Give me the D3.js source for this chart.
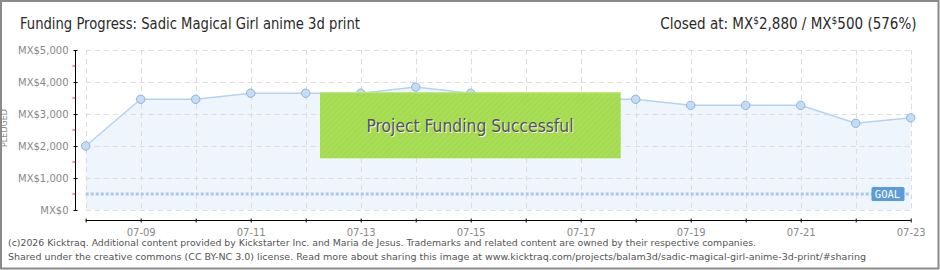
<!DOCTYPE html>
<html>
<head>
<meta charset="utf-8">
<script src="https://cdn.jsdelivr.net/npm/d3@7/dist/d3.min.js"></script>
<style>
  html, body { margin: 0; padding: 0; background: #fff; }
  svg { display: block; }
  .cond { font-family: "DejaVu Sans Condensed", "Liberation Sans Narrow", "DejaVu Sans", sans-serif; }
</style>
</head>
<body>
<svg id="chart" width="940" height="270"></svg>
<script>
// ---- Data ----
const dates = ["07-08","07-09","07-10","07-11","07-12","07-13","07-14","07-15",
               "07-16","07-17","07-18","07-19","07-20","07-21","07-22","07-23"];
const pledged = [2000, 3460, 3460, 3650, 3650, 3650, 3840, 3650,
                 3460, 3460, 3460, 3270, 3270, 3270, 2710, 2880];
const goal = 500;
const yTicks = [0, 1000, 2000, 3000, 4000, 5000];
const yMinorTicks = [500, 1500, 2500, 3500, 4500];
const xLabelDates = ["07-09","07-11","07-13","07-15","07-17","07-19","07-21","07-23"];
const titleText = "Funding Progress: Sadic Magical Girl anime 3d print";
const footer1 = "(c)2026 Kicktraq. Additional content provided by Kickstarter Inc. and Maria de Jesus. Trademarks and related content are owned by their respective companies.";
const footer2 = "Shared under the creative commons (CC BY-NC 3.0) license. Read more about sharing this image at www.kicktraq.com/projects/balam3d/sadic-magical-girl-anime-3d-print/#sharing";

const svg = d3.select("#chart");
const W = 940, H = 270;
const parse = d => new Date(2026, +d.slice(0,2) - 1, +d.slice(3));

const x = d3.scaleTime()
  .domain([parse(dates[0]), parse(dates[dates.length - 1])])
  .range([85.7, 910.7]);
const y = d3.scaleLinear().domain([0, 5000]).range([210, 50]);

// outer border
svg.append("rect").attr("x", 1).attr("y", 1).attr("width", W - 2.5).attr("height", H - 2.5)
  .attr("fill", "#fff").attr("stroke", "#8a8a8a").attr("stroke-width", 2);

// defs: stripes
const defs = svg.append("defs");
const pat = defs.append("pattern").attr("id", "stripes").attr("patternUnits", "userSpaceOnUse")
  .attr("width", 4).attr("height", 4).attr("patternTransform", "rotate(45)");
pat.append("rect").attr("width", 4).attr("height", 4).attr("fill", "#a6dd50");
pat.append("line").attr("x1", 0).attr("y1", 0).attr("x2", 0).attr("y2", 4)
  .attr("stroke", "#9dd449").attr("stroke-width", 1.5);

// area
const data = dates.map((d, i) => ({ date: parse(d), v: pledged[i] }));
const area = d3.area().x(d => x(d.date)).y0(y(0)).y1(d => y(d.v));
const line = d3.line().x(d => x(d.date)).y(d => y(d.v));

svg.append("path").datum(data).attr("d", area).attr("fill", "#eef5fd");

// grid
const grid = svg.append("g");
grid.selectAll("line.h").data(yTicks).join("line")
  .attr("x1", x.range()[0]).attr("x2", x.range()[1])
  .attr("y1", d => y(d) + 0.5).attr("y2", d => y(d) + 0.5)
  .attr("stroke", "#dcdcdc").attr("stroke-dasharray", "5,4");
grid.selectAll("line.v").data(dates).join("line")
  .attr("x1", d => Math.round(x(parse(d))) + 0.5).attr("x2", d => Math.round(x(parse(d))) + 0.5)
  .attr("y1", y(5000)).attr("y2", y(0))
  .attr("stroke", "#dcdcdc").attr("stroke-dasharray", "5,4");

// line
svg.append("path").datum(data).attr("d", line).attr("fill", "none")
  .attr("stroke", "#b5d2f2").attr("stroke-width", 1.5);

// goal line
svg.append("line").attr("x1", x.range()[0]).attr("x2", x.range()[1])
  .attr("y1", y(goal)).attr("y2", y(goal))
  .attr("stroke", "#a9c8ec").attr("stroke-width", 3).attr("stroke-dasharray", "3,2");

// points
svg.append("g").selectAll("circle").data(data).join("circle")
  .attr("cx", d => x(d.date)).attr("cy", d => y(d.v)).attr("r", 4.2)
  .attr("fill", "#c3dcf7").attr("stroke", "#90b2da").attr("stroke-width", 1);

// goal label
const gl = svg.append("g");
gl.append("rect").attr("x", 871.5).attr("y", y(goal) - 7).attr("width", 33).attr("height", 14)
  .attr("rx", 1.5).attr("fill", "#5b9bd9");
gl.append("text").attr("x", 887.5).attr("y", y(goal) + 4).attr("text-anchor", "middle")
  .attr("fill", "#fff").attr("font-family", "DejaVu Sans Mono, monospace").attr("font-size", 10.5)
  .text("GOAL");

// success box
svg.append("rect").attr("x", 320).attr("y", 92.3).attr("width", 300.7).attr("height", 66)
  .attr("fill", "url(#stripes)").attr("opacity", 0.97);
svg.append("line").attr("x1", 320).attr("x2", 620.7).attr("y1", 92.8).attr("y2", 92.8)
  .attr("stroke", "#bfe77f").attr("stroke-width", 1);
const st = svg.append("g").attr("class", "cond");
st.append("text").attr("x", 471).attr("y", 132.5).attr("text-anchor", "middle")
  .attr("font-size", 18).attr("fill", "#f4f4f4").attr("textLength", 207).attr("lengthAdjust", "spacingAndGlyphs")
  .text("Project Funding Successful");
st.append("text").attr("x", 470).attr("y", 131.5).attr("text-anchor", "middle")
  .attr("font-size", 18).attr("fill", "#555").attr("textLength", 207).attr("lengthAdjust", "spacingAndGlyphs")
  .text("Project Funding Successful");

// y axis
const yAxis = d3.axisLeft(y).tickValues(yTicks).tickSize(2)
  .tickFormat(d => "MX$" + d3.format(",")(d));
const ya = svg.append("g").attr("transform", "translate(75.5,0)").call(yAxis);
ya.select(".domain").attr("stroke", "#000").attr("d", `M0,${y(5000)}V${y(0)}`);
ya.selectAll(".tick line").attr("x1", -2).attr("x2", 2).attr("stroke", "#000");
ya.selectAll(".tick text").attr("x", -7).attr("fill", "#888")
  .attr("font-family", "DejaVu Sans, sans-serif").attr("font-size", 10);
ya.selectAll("line.minor").data(yMinorTicks).join("line")
  .attr("class", "minor").attr("x1", -3).attr("x2", 0)
  .attr("y1", d => y(d)).attr("y2", d => y(d)).attr("stroke", "#e02020");

// x axis
const xAxis = d3.axisBottom(x).tickValues(dates.map(parse)).tickSize(2)
  .tickFormat(d => { const s = d3.timeFormat("%m-%d")(d); return xLabelDates.includes(s) ? s : ""; });
const xa = svg.append("g").attr("transform", "translate(0,220.5)").call(xAxis);
xa.select(".domain").attr("stroke", "#000").attr("d", `M${x.range()[0]},0H${x.range()[1]}`);
xa.selectAll(".tick line").attr("y1", -2).attr("y2", 2).attr("stroke", "#000");
xa.selectAll(".tick text").attr("y", 8).attr("fill", "#888")
  .attr("font-family", "DejaVu Sans, sans-serif").attr("font-size", 10);

// PLEDGED label
svg.append("text").attr("transform", "translate(6.5,128) rotate(-90)")
  .attr("text-anchor", "middle").attr("font-family", "DejaVu Sans, sans-serif")
  .attr("font-size", 8).attr("fill", "#888").text("PLEDGED");

// title
svg.append("text").attr("class", "cond").attr("x", 20).attr("y", 28.5)
  .attr("font-size", 15).attr("fill", "#2a2a2a").attr("textLength", 340).attr("lengthAdjust", "spacingAndGlyphs")
  .text(titleText);

// closed at
const ct = svg.append("text").attr("class", "cond").attr("x", 916.5).attr("y", 28.5)
  .attr("text-anchor", "end").attr("font-size", 15).attr("fill", "#2a2a2a");
ct.append("tspan").text("Closed at:  MX");
ct.append("tspan").attr("font-size", 10).attr("dy", -5).text("$");
ct.append("tspan").attr("dy", 5).text("2,880 /  MX");
ct.append("tspan").attr("font-size", 10).attr("dy", -5).text("$");
ct.append("tspan").attr("dy", 5).text("500 (576%)");

// footer
const ft = svg.append("g").attr("font-family", "DejaVu Sans Condensed, DejaVu Sans, sans-serif")
  .attr("font-size", 9).attr("fill", "#555");
ft.append("text").attr("x", 8).attr("y", 246).attr("textLength", 748).attr("lengthAdjust", "spacingAndGlyphs").text(footer1);
ft.append("text").attr("x", 8).attr("y", 260).attr("textLength", 858).attr("lengthAdjust", "spacingAndGlyphs").text(footer2);
</script>
</body>
</html>
